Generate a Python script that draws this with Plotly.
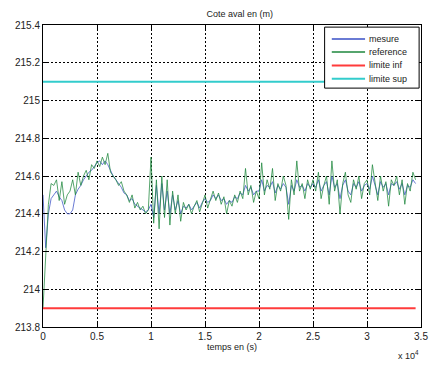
import numpy as np
import plotly.graph_objects as go

# time axis in units of 1e4 s, step 0.025
step = 0.025

reference = [
    213.90, 214.20, 214.45, 214.56, 214.55, 214.58, 214.47, 214.57, 214.45, 214.50,
    214.52, 214.58, 214.50, 214.62, 214.55, 214.60, 214.63, 214.58, 214.66, 214.64,
    214.68, 214.65, 214.70, 214.66, 214.72, 214.62, 214.60, 214.58, 214.55, 214.57,
    214.52, 214.50, 214.46, 214.50, 214.43, 214.46, 214.42, 214.44, 214.40, 214.42,
    214.70, 214.35, 214.58, 214.32, 214.60, 214.38, 214.58, 214.34, 214.52, 214.40,
    214.50, 214.36, 214.46, 214.42, 214.45, 214.40, 214.44, 214.47, 214.41, 214.46,
    214.50, 214.43, 214.48, 214.52, 214.47, 214.51, 214.45, 214.49, 214.40, 214.47,
    214.44, 214.50, 214.46, 214.52, 214.48, 214.64, 214.50, 214.55, 214.46, 214.52,
    214.48, 214.67, 214.50, 214.58, 214.53, 214.64, 214.47, 214.56, 214.52, 214.60,
    214.55, 214.37, 214.58, 214.50, 214.68, 214.52, 214.56, 214.48, 214.58, 214.53,
    214.58, 214.52, 214.62, 214.48, 214.55, 214.60, 214.45, 214.68, 214.52, 214.58,
    214.40, 214.56, 214.62, 214.50, 214.46, 214.58, 214.53, 214.60, 214.48, 214.56,
    214.58, 214.50, 214.66, 214.55, 214.47, 214.60, 214.52, 214.57, 214.44, 214.58,
    214.55, 214.60, 214.50, 214.58, 214.45, 214.56, 214.52, 214.62, 214.58,
]

mesure = [
    214.50, 214.22, 214.40, 214.48, 214.50, 214.52, 214.49, 214.47, 214.42, 214.40,
    214.40, 214.42, 214.50, 214.53, 214.55, 214.58, 214.60, 214.62, 214.63, 214.65,
    214.67, 214.68, 214.66, 214.68, 214.66, 214.63, 214.60, 214.58, 214.56, 214.54,
    214.51, 214.50, 214.47, 214.48, 214.45, 214.44, 214.43, 214.42, 214.41, 214.42,
    214.45, 214.38, 214.55, 214.40, 214.56, 214.42, 214.52, 214.40, 214.50, 214.42,
    214.47, 214.40, 214.44, 214.43, 214.45, 214.42, 214.44, 214.46, 214.43, 214.46,
    214.48, 214.46, 214.47, 214.50, 214.48, 214.50, 214.47, 214.48, 214.45, 214.47,
    214.46, 214.49, 214.48, 214.51, 214.50, 214.55, 214.52, 214.54, 214.50, 214.52,
    214.52, 214.58, 214.52, 214.55, 214.54, 214.57, 214.51, 214.55, 214.53, 214.56,
    214.54, 214.45, 214.55, 214.52, 214.58, 214.54, 214.55, 214.52, 214.56, 214.54,
    214.56, 214.54, 214.58, 214.52, 214.55, 214.57, 214.50, 214.60, 214.54, 214.56,
    214.48, 214.55, 214.58, 214.52, 214.50, 214.56, 214.54, 214.57, 214.52, 214.55,
    214.56, 214.53, 214.60, 214.55, 214.50, 214.57, 214.54, 214.56, 214.50, 214.56,
    214.55, 214.57, 214.53, 214.56, 214.50, 214.55, 214.54, 214.58, 214.56,
]

limite_inf = 213.9
limite_sup = 215.1
t_end = 3.45

x_ticks = [0, 0.5, 1, 1.5, 2, 2.5, 3, 3.5]
y_ticks = [213.8, 214.0, 214.2, 214.4, 214.6, 214.8, 215.0, 215.2, 215.4]
y_labels = ["213.8", "214", "214.2", "214.4", "214.6", "214.8", "215", "215.2", "215.4"]

series_names = ["mesure", "reference", "limite inf", "limite sup"]
series_colors = ["rgba(80,100,205,0.85)", "rgba(30,135,60,0.75)", "#ff3b3b", "#33cccc"]

t_ref = np.arange(len(reference)) * step
t_mes = np.arange(len(mesure)) * step

font_fam = "Liberation Sans, Arial, sans-serif"
txt_col = "#222"

fig = go.Figure()
fig.add_trace(go.Scatter(x=t_mes, y=mesure, mode="lines", name=series_names[0],
                         line=dict(color=series_colors[0], width=1)))
fig.add_trace(go.Scatter(x=t_ref, y=reference, mode="lines", name=series_names[1],
                         line=dict(color=series_colors[1], width=1)))
fig.add_trace(go.Scatter(x=[0, t_end], y=[limite_inf, limite_inf], mode="lines",
                         name=series_names[2], line=dict(color=series_colors[2], width=2)))
fig.add_trace(go.Scatter(x=[0, t_end], y=[limite_sup, limite_sup], mode="lines",
                         name=series_names[3], line=dict(color=series_colors[3], width=2)))

axis_common = dict(
    showline=True, linecolor="black", linewidth=1, mirror="ticks",
    ticks="inside", ticklen=4, tickcolor="black",
    showgrid=True, gridcolor="black", griddash="2px,2px", gridwidth=1,
    zeroline=False, tickfont=dict(size=10, color=txt_col, family=font_fam),
)

fig.update_xaxes(range=[0, 3.5], tickvals=x_ticks,
                 ticktext=[str(v) for v in x_ticks],
                 title=dict(text="temps en (s)", font=dict(size=9, color=txt_col, family=font_fam),
                            standoff=2),
                 **axis_common)
fig.update_yaxes(range=[213.8, 215.4], tickvals=y_ticks, ticktext=y_labels, **axis_common)

# manual MATLAB-style legend (paper coords)
shapes = [dict(type="rect", xref="paper", yref="paper", x0=0.745, x1=0.995, y0=0.791, y1=0.993,
               line=dict(color="black", width=1), fillcolor="white", layer="above")]
annotations = []
row_y = [0.954, 0.911, 0.866, 0.822]
for name, col, yy in zip(series_names, series_colors, row_y):
    shapes.append(dict(type="line", xref="paper", yref="paper", x0=0.764, x1=0.852, y0=yy, y1=yy,
                       line=dict(color=col, width=2), layer="above"))
    annotations.append(dict(text=name, x=0.858, y=yy, xref="paper", yref="paper",
                            xanchor="left", yanchor="middle", showarrow=False,
                            font=dict(size=9, color=txt_col, family=font_fam)))

annotations.append(dict(text="x 10<sup>4</sup>", x=1.0, y=-0.093, xref="paper", yref="paper",
                        xanchor="right", yanchor="middle", showarrow=False,
                        font=dict(size=9, color=txt_col, family=font_fam)))

fig.update_layout(
    width=436, height=365,
    margin=dict(l=43, r=8, t=25, b=38),
    paper_bgcolor="white", plot_bgcolor="white",
    title=dict(text="Cote aval en (m)", x=0.55, xanchor="center", y=0.962, yanchor="middle",
               font=dict(size=9, color=txt_col, family=font_fam)),
    showlegend=False,
    shapes=shapes,
    annotations=annotations,
)

fig.write_html("out.html")
